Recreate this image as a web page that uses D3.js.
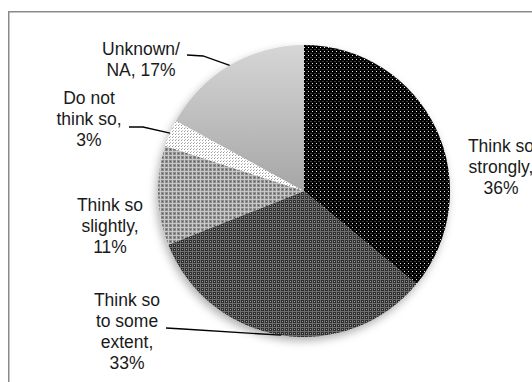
<!DOCTYPE html>
<html><head><meta charset="utf-8">
<script src="https://cdn.jsdelivr.net/npm/d3@7"></script>
<style>html,body{margin:0;padding:0;background:#fff;overflow:hidden}</style>
</head><body><div id="chart"></div>
<script>
const categories = ["Think so strongly","Think so to some extent","Think so slightly","Do not think so","Unknown/NA"];
const values = [36,33,11,3,17];
const labelLines = [["Think so","strongly,","36%"],["Think so","to some","extent,","33%"],["Think so","slightly,","11%"],["Do not","think so,","3%"],["Unknown/","NA, 17%"]];

const W=532,H=382, cx=304, cy=191, R=146;
const layout = [
  {x:501,y:152,leader:null},
  {x:127,y:306,leader:[[166,328],[183,329]]},
  {x:110,y:211,leader:null},
  {x:89,y:104,leader:[[129,127],[143,127]]},
  {x:141,y:55,leader:[[187,55],[203,56]]}
];
const fills=["url(#pStrong)","url(#pExtent)","url(#pSlight)","url(#pNot)","url(#gUnk)"];

const svg=d3.select("#chart").append("svg").attr("width",W).attr("height",H);
const defs=svg.append("defs");
function pat(id,size,bg,rects){
  const p=defs.append("pattern").attr("id",id).attr("patternUnits","userSpaceOnUse").attr("width",size).attr("height",size);
  p.append("rect").attr("width",size).attr("height",size).attr("fill",bg);
  rects.forEach(r=>p.append("rect").attr("x",r[0]).attr("y",r[1]).attr("width",r[2]).attr("height",r[3]).attr("fill",r[4]));
}
pat("pStrong",4,"#000",[[0,0,1,1,"#e8e8e8"],[2,2,2,1,"#3a3a3a"]]);
pat("pExtent",4,"#2e2e2e",[[0,0,4,1,"#6e6e6e"],[0,0,1,4,"#6e6e6e"],[2,2,1,1,"#a0a0a0"]]);
pat("pSlight",4,"#8c8c8c",[[0,0,4,1,"#c8c8c8"],[0,0,1,4,"#c8c8c8"],[2,2,1,1,"#5a5a5a"]]);
pat("pNot",3,"#fff",[[0,0,1,1,"#9a9a9a"],[1,2,1,1,"#c0c0c0"]]);
const g=defs.append("linearGradient").attr("id","gUnk").attr("x1",0).attr("y1",0).attr("x2",0).attr("y2",1);
g.append("stop").attr("offset","0%").attr("stop-color","#d6d6d6");
g.append("stop").attr("offset","100%").attr("stop-color","#a6a6a6");
const f=defs.append("filter").attr("id","sh").attr("x","-20%").attr("y","-20%").attr("width","140%").attr("height","140%");
f.append("feDropShadow").attr("dx",-2).attr("dy",4).attr("stdDeviation",4).attr("flood-color","#000").attr("flood-opacity",0.3);

// frame
svg.append("rect").attr("x",8.75).attr("y",11.75).attr("width",700).attr("height",500)
  .attr("fill","none").attr("stroke","#8a8a8a").attr("stroke-width",1.5);

const pie=d3.pie().sort(null).value(d=>d)(values);
const arc=d3.arc().innerRadius(0).outerRadius(R);
const pg=svg.append("g").attr("transform",`translate(${cx},${cy})`);
const sg=pg.append("g").attr("filter","url(#sh)");
sg.selectAll("path").data(pie).join("path").attr("d",arc).attr("fill",(d,i)=>fills[i]);

// leaders
const line=d3.line();
pie.forEach((d,i)=>{
  const L=layout[i].leader; if(!L) return;
  const a=(d.startAngle+d.endAngle)/2;
  const end=[cx+R*Math.sin(a), cy-R*Math.cos(a)];
  svg.append("path").attr("d",line([...L,end])).attr("fill","none").attr("stroke","#000").attr("stroke-width",1.3);
});

// labels
labelLines.forEach((lines,i)=>{
  const t=svg.append("text").attr("text-anchor","middle").attr("font-family","'Liberation Sans',Arial,sans-serif")
    .attr("font-size",17.5).attr("fill","#1a1a1a");
  lines.forEach((s,k)=>t.append("tspan").attr("x",layout[i].x).attr("y",layout[i].y+k*21).text(s));
});
</script></body></html>
